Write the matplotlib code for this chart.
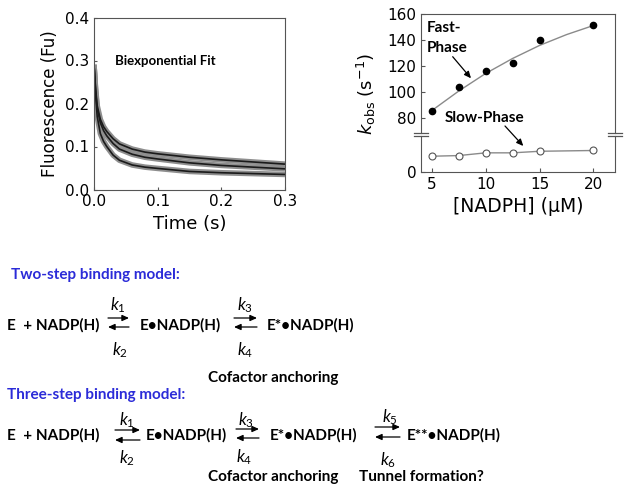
import matplotlib

matplotlib.use("Agg")
import matplotlib.pyplot as plt
from matplotlib.patches import FancyArrowPatch, ArrowStyle
from matplotlib.lines import Line2D

plt.rcParams["font.family"] = ["DejaVu Sans"]
plt.rcParams["mathtext.fontset"] = "custom"
plt.rcParams["mathtext.it"] = "Lato:italic"
plt.rcParams["mathtext.rm"] = "Lato"

# stopped-flow traces (left panel)
time_s = [0, 0.0025, 0.005, 0.01, 0.015, 0.02, 0.03, 0.04, 0.06, 0.08, 0.1, 0.15, 0.2, 0.25, 0.3]
trace_top = [0.29, 0.235, 0.195, 0.163, 0.146, 0.135, 0.118, 0.106, 0.094, 0.087, 0.083, 0.075, 0.069, 0.064, 0.059]
trace_mid = [0.29, 0.230, 0.188, 0.155, 0.137, 0.125, 0.107, 0.094, 0.082, 0.075, 0.071, 0.062, 0.056, 0.052, 0.048]
trace_low = [0.29, 0.220, 0.170, 0.130, 0.112, 0.100, 0.080, 0.068, 0.057, 0.052, 0.049, 0.042, 0.039, 0.037, 0.035]

# observed rate constants (right panel)
nadph_uM = [5, 7.5, 10, 12.5, 15, 20]
k_fast = [85.1, 103.3, 115.8, 121.7, 140.0, 151.0]
k_slow = [12.1, 12.6, 14.7, 14.7, 15.9, 16.5]
fit_x = [5, 7.5, 10, 12.5, 15, 17.5, 20]
fit_fast = [85.5, 100.5, 114.0, 125.5, 135.5, 143.8, 150.8]

W, H = 629, 495


def fx(px):
    return px / W


def fy(py):
    return 1 - py / H


def arrow(x0, y0, x1, y1, head=4.0):
    style = ArrowStyle("-|>", head_length=head, head_width=head * 0.45)
    patch = FancyArrowPatch((fx(x0), fy(y0)), (fx(x1), fy(y1)), transform=fig.transFigure,
                            arrowstyle=style, mutation_scale=1, lw=0.9, color="black",
                            shrinkA=0, shrinkB=0)
    fig.add_artist(patch)


fig = plt.figure(figsize=(6.29, 4.95), dpi=100)
spine_col = "#555555"

# left panel
ax = fig.add_axes([fx(94), fy(189.5), fx(285) - fx(94), fy(17.5) - fy(189.5)])
for tr in (trace_top, trace_mid, trace_low):
    ax.plot(time_s, tr, color="#8e8e8e", lw=4.0, solid_capstyle="butt")
for tr in (trace_top, trace_mid, trace_low):
    ax.plot(time_s, tr, color="#1a1a1a", lw=1.2)
ax.set_xlim(0, 0.3)
ax.set_ylim(0, 0.4)
ax.set_xticks([0, 0.1, 0.2, 0.3])
ax.set_xticklabels(["0.0", "0.1", "0.2", "0.3"])
ax.set_yticks([0, 0.1, 0.2, 0.3, 0.4])
ax.set_yticklabels(["0.0", "0.1", "0.2", "0.3", "0.4"])
ax.tick_params(direction="in", length=2, labelsize=11, colors=spine_col, labelcolor="black")
for s in ax.spines.values():
    s.set_color(spine_col)
ax.set_xlabel("Time (s)", fontsize=13, labelpad=4)
ax.set_ylabel("Fluorescence (Fu)", fontsize=12, labelpad=4)
ax.text(0.11, 0.745, "Biexponential Fit", transform=ax.transAxes, family="Lato",
        weight="bold", fontsize=9.5, va="center")

# right panel, broken y axis
left_r, right_r = fx(421), fx(615)
ax_hi = fig.add_axes([left_r, fy(132.5), right_r - left_r, fy(13.5) - fy(132.5)])
ax_lo = fig.add_axes([left_r, fy(172), right_r - left_r, fy(135.5) - fy(172)])
ax_hi.plot(fit_x, fit_fast, color="#8a8a8a", lw=1.0)
ax_hi.plot(nadph_uM, k_fast, "o", color="black", ms=4.5)
ax_lo.plot(nadph_uM, k_slow, color="#8a8a8a", lw=1.0)
ax_lo.plot(nadph_uM, k_slow, "o", mfc="white", mec="#555555", mew=0.8, ms=5)
for a in (ax_hi, ax_lo):
    a.set_xlim(4, 22)
    for s in a.spines.values():
        s.set_color(spine_col)
    a.tick_params(direction="in", length=3, labelsize=11, colors=spine_col, labelcolor="black")
ax_hi.set_ylim(68.7, 160)
ax_hi.set_yticks([80, 100, 120, 140, 160])
ax_hi.set_xticks([])
ax_hi.spines["bottom"].set_visible(False)
ax_lo.set_ylim(0, 28)
ax_lo.set_yticks([0])
ax_lo.set_xticks([5, 10, 15, 20])
ax_lo.spines["top"].set_visible(False)
ax_lo.set_xlabel("[NADPH] (\u03bcM)", fontsize=13.5, labelpad=4)
fig.text(fx(366), fy(94), "$k_{\\mathrm{obs}}$ (s$^{-1}$)", rotation=90, fontsize=13,
         ha="center", va="center", math_fontfamily="dejavusans")

# break marks
for xs in (421, 615):
    for ys in (132.5, 135.5):
        fig.add_artist(Line2D([fx(xs - 7), fx(xs + 7)], [fy(ys), fy(ys)],
                              transform=fig.transFigure, color=spine_col, lw=0.9))

fig.text(fx(427), fy(28), "Fast-", family="Lato", weight="bold", fontsize=11, va="center")
fig.text(fx(427), fy(48), "Phase", family="Lato", weight="bold", fontsize=11, va="center")
arrow(452.7, 56.7, 471, 78.3)
fig.text(fx(445), fy(118), "Slow-Phase", family="Lato", weight="bold", fontsize=11, va="center")
arrow(505, 126, 523.3, 146)

# reaction schemes
blue = "#2b2bd8"
eq = dict(family="Lato", weight="bold", fontsize=11, va="center", ha="left")
kk = dict(fontsize=12, va="center", ha="center", math_fontfamily="custom")

fig.text(fx(11), fy(275), "Two-step binding model:", color=blue, **eq)
fig.text(fx(7), fy(325), "E  + NADP(H)", **eq)
arrow(108, 318, 129, 318)
arrow(129, 327, 108, 327)
fig.text(fx(118), fy(305), "$k_{\\mathit{1}}$", **kk)
fig.text(fx(120), fy(350), "$k_{\\mathit{2}}$", **kk)
fig.text(fx(140), fy(325), "E\u2022NADP(H)", **eq)
arrow(234, 318, 257, 318)
arrow(257, 327, 234, 327)
fig.text(fx(245), fy(305), "$k_{\\mathit{3}}$", **kk)
fig.text(fx(245), fy(350), "$k_{\\mathit{4}}$", **kk)
fig.text(fx(267), fy(325), "E*\u2022NADP(H)", **eq)
fig.text(fx(273), fy(378), "Cofactor anchoring", **{**eq, "ha": "center"})

fig.text(fx(7), fy(395), "Three-step binding model:", color=blue, **eq)
fig.text(fx(7), fy(435), "E  + NADP(H)", **eq)
arrow(115, 430, 140, 430)
arrow(140, 440, 115, 440)
fig.text(fx(127), fy(420), "$k_{\\mathit{1}}$", **kk)
fig.text(fx(127), fy(458), "$k_{\\mathit{2}}$", **kk)
fig.text(fx(146), fy(435), "E\u2022NADP(H)", **eq)
arrow(236, 429, 259, 429)
arrow(259, 438, 236, 438)
fig.text(fx(246), fy(420), "$k_{\\mathit{3}}$", **kk)
fig.text(fx(244), fy(457), "$k_{\\mathit{4}}$", **kk)
fig.text(fx(270), fy(435), "E*\u2022NADP(H)", **eq)
arrow(375, 427, 400, 427)
arrow(400, 437, 375, 437)
fig.text(fx(390), fy(417), "$k_{\\mathit{5}}$", **kk)
fig.text(fx(388), fy(460), "$k_{\\mathit{6}}$", **kk)
fig.text(fx(407), fy(435), "E**\u2022NADP(H)", **eq)
fig.text(fx(273), fy(477), "Cofactor anchoring", **{**eq, "ha": "center"})
fig.text(fx(421), fy(477), "Tunnel formation?", **{**eq, "ha": "center"})

fig.savefig("out.png", dpi=100)
